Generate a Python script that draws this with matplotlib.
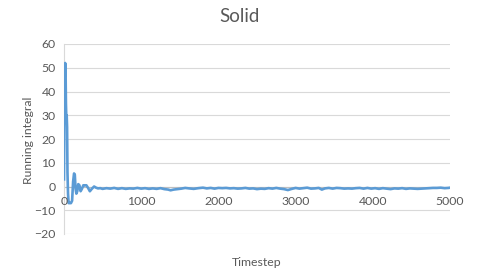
import matplotlib
matplotlib.use("Agg")
import matplotlib.pyplot as plt

plt.rcParams['font.family'] = ['Lato', 'DejaVu Sans']

timestep = [0, 8, 15, 20, 25, 30, 35, 40, 45, 52, 60, 75, 90, 105, 118, 130, 140, 150,
            160, 172, 185, 200, 215, 232, 250, 270, 290, 310, 335, 360, 390, 415, 440,
            470, 500, 550, 600, 650, 700, 750, 800, 850, 900, 950, 1000, 1050, 1100,
            1150, 1200, 1250, 1300, 1350, 1380, 1420, 1470, 1520, 1570, 1620, 1680,
            1740, 1800, 1850, 1900, 1950, 2000, 2050, 2100, 2150, 2200, 2250, 2300,
            2350, 2400, 2450, 2500, 2550, 2600, 2650, 2700, 2750, 2800, 2850, 2900,
            2950, 3000, 3050, 3100, 3150, 3200, 3250, 3300, 3340, 3380, 3430, 3480,
            3530, 3580, 3630, 3680, 3730, 3780, 3830, 3880, 3930, 3980, 4030, 4080,
            4130, 4180, 4230, 4280, 4330, 4380, 4430, 4480, 4530, 4580, 4630, 4680,
            4730, 4780, 4830, 4880, 4930, 4980, 5000]
running_integral = [3, 45, 52, 50, 35, 29, 30, 25, 6, -3, -7, -7, -7, -6, 2, 5.5, 5, -1,
                    -3, -2, 1, 0.5, -2, -1, 0.5, 0.5, 0.5, -0.5, -2, -1, 0, -0.5, -0.8,
                    -0.7, -1.0, -0.7, -0.9, -0.6, -1.0, -0.7, -1.0, -0.8, -0.9, -0.6,
                    -0.9, -0.7, -1.0, -0.8, -1.0, -0.7, -1.1, -1.3, -1.6, -1.3, -1.1,
                    -0.9, -0.6, -0.8, -1.0, -0.7, -0.5, -0.8, -0.6, -0.9, -0.6, -0.7,
                    -0.6, -0.8, -0.7, -0.9, -0.8, -0.6, -0.9, -0.8, -1.1, -0.9, -1.0,
                    -0.7, -0.9, -0.6, -0.9, -1.1, -1.5, -1.0, -0.6, -0.9, -0.7, -0.5,
                    -0.9, -0.8, -0.6, -1.3, -0.8, -0.6, -0.9, -0.6, -0.7, -0.9, -0.8,
                    -0.9, -0.7, -0.6, -0.9, -0.6, -0.9, -0.7, -1.0, -0.7, -0.9, -1.1,
                    -0.8, -0.9, -0.7, -1.0, -0.8, -0.9, -1.0, -0.9, -0.8, -0.7, -0.6,
                    -0.6, -0.5, -0.7, -0.6, -0.5]

title = "Solid"
x_label = "Timestep"
y_label = "Running integral"
x_ticks = [0, 1000, 2000, 3000, 4000, 5000]
y_ticks = [-20, -10, 0, 10, 20, 30, 40, 50, 60]

fig = plt.figure(figsize=(4.78, 2.80), dpi=100)
ax = fig.add_axes([64/478, 1 - 234/280, (450-64)/478, (234-44)/280])

txt = '#595959'
grid = '#D9D9D9'

ax.plot(timestep, running_integral, color='#5B9BD5', lw=1.9, solid_joinstyle='round', zorder=3)
ax.set_xlim(0, 5000)
ax.set_ylim(-20, 60)
ax.set_yticks(y_ticks)
ax.set_xticks(x_ticks)
ax.grid(axis='y', color=grid, lw=0.8)
ax.axhline(0, color='#BFBFBF', lw=0.8, zorder=2)
for s in ['top', 'right', 'bottom']:
    ax.spines[s].set_visible(False)
ax.spines['left'].set_color(grid)
ax.spines['left'].set_linewidth(0.8)
ax.tick_params(axis='both', length=0, colors=txt, labelsize=8.8)
ax.tick_params(axis='y', pad=6)
ax.set_xticklabels([])
for t in x_ticks:
    ax.text(t, -4.0, str(t), transform=ax.transData, ha='center', va='top',
            color=txt, fontsize=8.8)

fig.text(240/478, 1 - 16/280, title, ha='center', va='center', fontsize=13.5, color=txt)
fig.text(257/478, 1 - 262/280, x_label, ha='center', va='center', fontsize=8.8, color=txt)
fig.text(28/478, 1 - 140/280, y_label, ha='center', va='center', rotation=90, fontsize=8.8, color=txt)

fig.savefig('out.png', dpi=100, facecolor='white')
